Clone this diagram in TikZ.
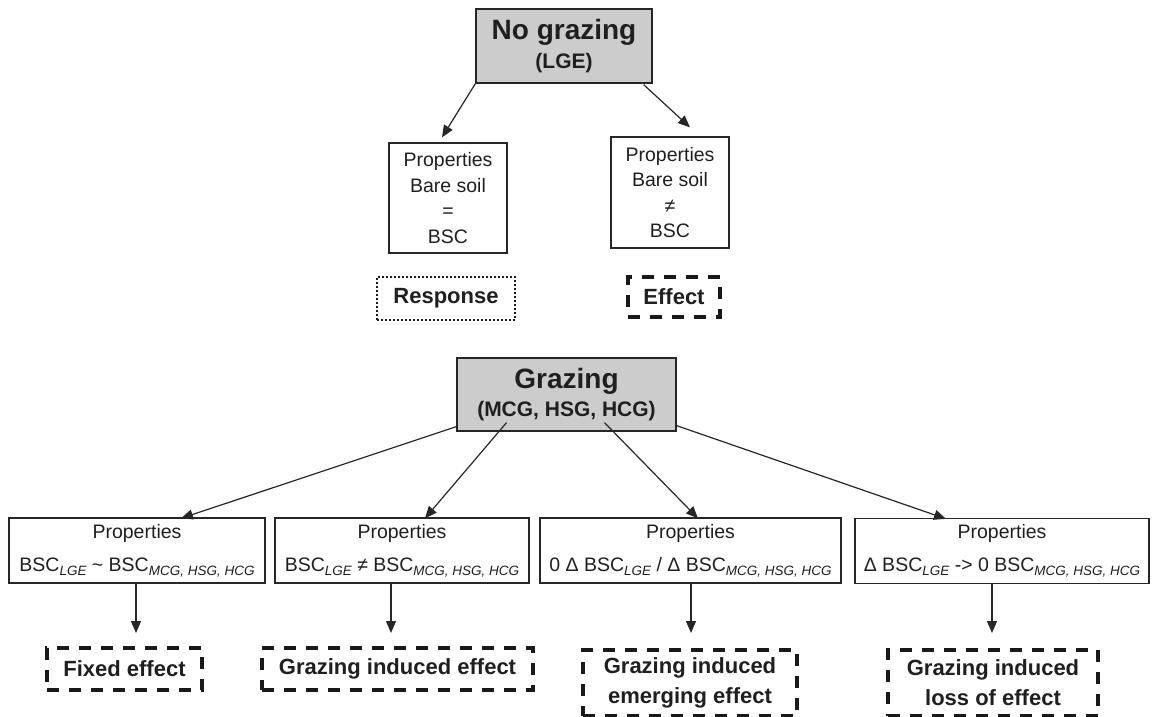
\documentclass[tikz,border=0pt]{standalone}
\usepackage{fontspec}
\setmainfont{Liberation Sans}
\usetikzlibrary{arrows.meta,calc}
\newcommand\lsub[1]{\raisebox{-4pt}{\fontsize{13.5}{14}\selectfont\itshape #1}}
\begin{document}
\begin{tikzpicture}[x=1pt,y=-1pt,
  box/.style={draw=black!85, line width=1.3pt, inner sep=0pt, align=center, text=black!88},
  gbox/.style={box, fill=gray!40, font=\bfseries},
  pbox/.style={box, font=\fontsize{19.5}{25.5}\selectfont},
  qbox/.style={box, minimum height=65pt, font=\fontsize{19.5}{33}\selectfont},
  dbox/.style={draw=black!90, line width=3.2pt, dash pattern=on 12pt off 10pt, inner sep=0pt, align=center, text=black!88, font=\fontsize{22}{28}\selectfont\bfseries},
  obox/.style={draw=black!90, line width=2.2pt, dash pattern=on 1.6pt off 2.4pt, inner sep=0pt, align=center, text=black!88, font=\fontsize{22}{28}\selectfont\bfseries},
  arr/.style={draw=black!85, line width=1.2pt, -{Triangle[length=12pt,width=10pt]}}
]
\useasboundingbox (0,0) rectangle (1152,717);
\fill[white] (0,0) rectangle (1152,717);

% top part
\node[gbox, minimum width=176pt, minimum height=74pt] (t) at (564,46)
  {\fontsize{28}{30}\selectfont No grazing\\[7pt]\fontsize{21}{30}\selectfont (LGE)};
\node[pbox, minimum width=118pt, minimum height=110pt] (p1) at (448,198)
  {Properties\\Bare soil\\=\\BSC};
\node[pbox, minimum width=118pt, minimum height=111pt] (p2) at (670,192.5)
  {Properties\\Bare soil\\≠\\BSC};
\node[obox, minimum width=138pt, minimum height=43pt] (r) at (446,298.5) {Response};
\node[dbox, minimum width=92pt, minimum height=40pt] (e) at (674,297) {Effect};

\coordinate (t1) at ($(t.south west)+(0,0)$);
\coordinate (t2) at ($(t.south east)+(-9,1)$);
\coordinate (p1t) at ($(p1.north)+(-6,-5)$);
\coordinate (p2t) at ($(p2.north)+(20,-9)$);
\draw[arr] (t1) -- (p1t);
\draw[arr] (t2) -- (p2t);

% grazing part
\node[gbox, minimum width=219pt, minimum height=73pt] (g) at (566.5,394.5)
  {\fontsize{28}{30}\selectfont Grazing\\[5pt]\fontsize{21}{30}\selectfont (MCG, HSG, HCG)};

\node[qbox, minimum width=256pt] (b1) at (137,550.5)
  {Properties\\BSC\lsub{LGE} \textasciitilde{} BSC\lsub{MCG, HSG, HCG}};
\node[qbox, minimum width=254pt] (b2) at (402,550.5)
  {Properties\\BSC\lsub{LGE} ≠ BSC\lsub{MCG, HSG, HCG}};
\node[qbox, minimum width=301pt] (b3) at (690.5,550.5)
  {Properties\\0 Δ BSC\lsub{LGE} / Δ BSC\lsub{MCG, HSG, HCG}};
\node[qbox, minimum width=294pt] (b4) at (1002,551)
  {Properties\\Δ BSC\lsub{LGE} -> 0 BSC\lsub{MCG, HSG, HCG}};

\coordinate (g1) at ($(g.south west)+(0,-5)$);
\coordinate (g2) at ($(g.south)+(-60,-9)$);
\coordinate (g3) at ($(g.south)+(38,-9)$);
\coordinate (g4) at ($(g.south east)+(0,-6)$);
\coordinate (b1t) at ($(b1.north)+(44,1)$);
\coordinate (b2t) at ($(b2.north)+(23,1)$);
\coordinate (b3t) at ($(b3.north)+(7.5,1)$);
\coordinate (b4t) at ($(b4.north)+(-56,1)$);
\draw[arr] (g1) -- (b1t);
\draw[arr] (g2) -- (b2t);
\draw[arr] (g3) -- (b3t);
\draw[arr] (g4) -- (b4t);

\node[dbox, minimum width=155pt, minimum height=42pt] (d1) at (124.5,669) {Fixed effect};
\node[dbox, minimum width=271pt, minimum height=42pt] (d2) at (397.5,669) {Grazing induced effect};
\node[dbox, minimum width=214pt, minimum height=66pt] (d3) at (690,683) {Grazing induced\\[2pt]emerging effect};
\node[dbox, minimum width=210pt, minimum height=66pt] (d4) at (993,683) {Grazing induced\\[2pt]loss of effect};

\coordinate (a1) at (136,633);
\coordinate (a2) at (391,633);
\coordinate (a3) at (691,633);
\coordinate (a4) at (992,633);
\draw[arr] (b1.south -| a1) -- (a1);
\draw[arr] (b2.south -| a2) -- (a2);
\draw[arr] (b3.south -| a3) -- (a3);
\draw[arr] (b4.south -| a4) -- (a4);
\end{tikzpicture}
\end{document}
